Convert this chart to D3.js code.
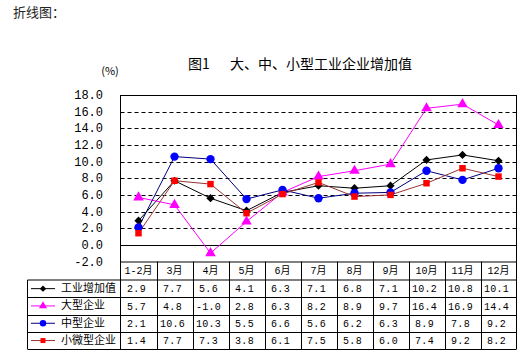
<!DOCTYPE html>
<html>
<head>
<meta charset="utf-8">
<script src="https://cdn.jsdelivr.net/npm/d3@7"></script>
<style>
  body { margin: 0; background: #fff; }
  svg text { font-family: "Noto Sans CJK SC", sans-serif; }
  .num { font-family: "Liberation Mono", "Noto Sans CJK SC", monospace; }
</style>
</head>
<body>
<div id="chart"></div>
<script>
// data
var months = ["1-2月","3月","4月","5月","6月","7月","8月","9月","10月","11月","12月"];
var yTicks = [-2,0,2,4,6,8,10,12,14,16,18];
var seriesNames = ["工业增加值","大型企业","中型企业","小微型企业"];
var industry = [2.9,7.7,5.6,4.1,6.3,7.1,6.8,7.1,10.2,10.8,10.1];
var large    = [5.7,4.8,-1.0,2.8,6.3,8.2,8.9,9.7,16.4,16.9,14.4];
var medium   = [2.1,10.6,10.3,5.5,6.6,5.6,6.2,6.3,8.9,7.8,9.2];
var small    = [1.4,7.7,7.3,3.8,6.1,7.5,5.8,6.0,7.4,9.2,8.2];

var width = 524, height = 354;
var plotL = 120.5, plotR = 516.5, plotT = 95, plotB = 261.5;
var legendLeft = 27.5, headH = 18.5, rowH = 17.3;

// diamond = square turned 45 degrees
var series = [
  {name: seriesNames[0], values: industry, line: "#000000", fill: "#000000", shape: d3.symbolSquare, size: 34, rot: 45},
  {name: seriesNames[1], values: large,    line: "#ff00ff", fill: "#ff00ff", shape: d3.symbolTriangle, size: 48, rot: 0},
  {name: seriesNames[2], values: medium,   line: "#000080", fill: "#0000ff", shape: d3.symbolCircle, size: 55, rot: 0},
  {name: seriesNames[3], values: small,    line: "#993333", fill: "#ff0000", shape: d3.symbolSquare, size: 42, rot: 0}
];

var x = d3.scaleBand().domain(months).range([plotL, plotR]);
var y = d3.scaleLinear().domain([-2, 18]).range([plotB, plotT]);

var svg = d3.select("#chart").append("svg")
    .attr("width", width)
    .attr("height", height);

svg.append("text")
    .attr("x", 13).attr("y", 13)
    .attr("dominant-baseline", "middle")
    .style("font-size", "13px").style("fill", "#222")
    .text("折线图：");

svg.append("text")
    .attr("x", 188).attr("y", 65)
    .attr("dominant-baseline", "middle")
    .style("font-size", "14px")
    .text("图1");
svg.append("text")
    .attr("x", 230).attr("y", 65)
    .attr("dominant-baseline", "middle")
    .style("font-size", "14px")
    .text("大、中、小型工业企业增加值");

svg.append("text")
    .attr("x", 110).attr("y", 72)
    .attr("text-anchor", "middle")
    .attr("dominant-baseline", "middle")
    .style("font-size", "11px")
    .text("(%)");

// gridlines
svg.selectAll(".grid")
    .data(yTicks.filter(function(d){ return d > -2 && d < 18; }))
    .enter().append("line")
    .attr("x1", plotL).attr("x2", plotR)
    .attr("y1", function(d){ return Math.round(y(d)) + 0.5; })
    .attr("y2", function(d){ return Math.round(y(d)) + 0.5; })
    .attr("stroke", "#000")
    .attr("stroke-dasharray", function(d){ return d === 0 ? null : "4,3"; });

// y labels
svg.selectAll(".ylab")
    .data(yTicks)
    .enter().append("text")
    .attr("class", "num")
    .attr("x", 103)
    .attr("y", function(d){ return y(d) + 1; })
    .attr("text-anchor", "end")
    .attr("dominant-baseline", "middle")
    .style("font-size", "12px")
    .text(function(d){ return d3.format(".1f")(d).replace("−", "-"); });

// plot frame
svg.append("rect")
    .attr("x", plotL).attr("y", plotT + 0.5)
    .attr("width", plotR - plotL).attr("height", plotB - plotT)
    .attr("fill", "none").attr("stroke", "#000");

var line = d3.line()
    .x(function(d, i){ return x(months[i]) + x.bandwidth() / 2; })
    .y(function(d){ return y(d); });

series.forEach(function(s){
  svg.append("path")
      .attr("d", line(s.values))
      .attr("fill", "none")
      .attr("stroke", s.line)
      .attr("stroke-width", 1);
});
series.forEach(function(s){
  svg.selectAll(null)
      .data(s.values)
      .enter().append("path")
      .attr("transform", function(d, i){
        return "translate(" + (x(months[i]) + x.bandwidth() / 2) + "," + y(d) + ") rotate(" + s.rot + ")";
      })
      .attr("d", d3.symbol().type(s.shape).size(s.size))
      .attr("fill", s.fill);
});

// data table
var tableBottom = plotB + headH + rowH * series.length;
var t = svg.append("g");

// header row
t.append("line").attr("x1", plotL).attr("x2", plotR)
    .attr("y1", plotB + headH).attr("y2", plotB + headH).attr("stroke", "#000");
t.selectAll(".mlab")
    .data(months)
    .enter().append("text")
    .attr("class", "num")
    .attr("x", function(d){ return x(d) + x.bandwidth() / 2; })
    .attr("y", plotB + headH / 2 + 1)
    .attr("text-anchor", "middle")
    .attr("dominant-baseline", "middle")
    .style("font-size", "10px")
    .text(function(d){ return d; });

// vertical dividers
t.selectAll(".vdiv")
    .data(months.slice(1))
    .enter().append("line")
    .attr("x1", function(d){ return Math.round(x(d)) + 0.5; })
    .attr("x2", function(d){ return Math.round(x(d)) + 0.5; })
    .attr("y1", plotB).attr("y2", tableBottom)
    .attr("stroke", "#000");
t.append("line").attr("x1", plotL).attr("x2", plotL)
    .attr("y1", plotB).attr("y2", tableBottom).attr("stroke", "#000");
t.append("line").attr("x1", plotR).attr("x2", plotR)
    .attr("y1", plotB).attr("y2", tableBottom).attr("stroke", "#000");
t.append("line").attr("x1", legendLeft).attr("x2", legendLeft)
    .attr("y1", plotB + headH).attr("y2", tableBottom).attr("stroke", "#000");
t.append("line").attr("x1", legendLeft).attr("x2", plotL)
    .attr("y1", plotB + headH).attr("y2", plotB + headH).attr("stroke", "#000");

series.forEach(function(s, r){
  var y0 = plotB + headH + rowH * r;
  var cy = y0 + rowH / 2;
  t.append("line")
      .attr("x1", legendLeft).attr("x2", plotR)
      .attr("y1", Math.round(y0 + rowH) + 0.5).attr("y2", Math.round(y0 + rowH) + 0.5)
      .attr("stroke", "#000");
  t.append("line")
      .attr("x1", 31).attr("x2", 55)
      .attr("y1", cy).attr("y2", cy)
      .attr("stroke", s.line);
  t.append("path")
      .attr("transform", "translate(43," + cy + ") rotate(" + s.rot + ")")
      .attr("d", d3.symbol().type(s.shape).size(s.size * 0.6))
      .attr("fill", s.fill);
  t.append("text")
      .attr("x", 61).attr("y", cy + 0.5)
      .attr("dominant-baseline", "middle")
      .style("font-size", "11px")
      .text(s.name);
  t.selectAll(null)
      .data(s.values)
      .enter().append("text")
      .attr("class", "num")
      .attr("x", function(d, i){ return x(months[i]) + x.bandwidth() / 2 - 2; })
      .attr("y", cy + 1)
      .attr("text-anchor", "middle")
      .attr("dominant-baseline", "middle")
      .style("font-size", "10px")
      .style("letter-spacing", "0.3px")
      .text(function(d){ return d3.format(".1f")(d).replace("−", "-"); });
});
</script>
</body>
</html>
